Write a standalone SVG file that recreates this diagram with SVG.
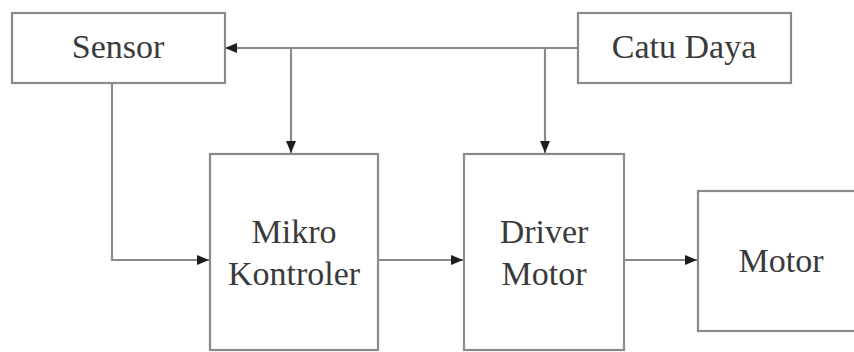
<svg xmlns="http://www.w3.org/2000/svg" width="854" height="352" viewBox="0 0 854 352">
<style>
.box{fill:#fff;stroke:#8a8a8a;stroke-width:2.2}
.lbl{font-family:'Liberation Serif','Times New Roman',serif;font-size:34px;fill:#3a3a3a;text-anchor:middle}
.ln{fill:none;stroke:#8a8a8a;stroke-width:2.2}
</style>
<defs>
<marker id="ah" viewBox="0 0 12 10" refX="12" refY="5" markerWidth="12" markerHeight="10" markerUnits="userSpaceOnUse" orient="auto">
<path d="M0,0 L12,5 L0,10 Z" fill="#1e1e1e"/>
</marker>
</defs>
<rect width="854" height="352" fill="#fff"/>
<g id="connectors">
<path class="ln" d="M578,48 L225,48" marker-end="url(#ah)"/>
<path class="ln" d="M291,48 L291,153" marker-end="url(#ah)"/>
<path class="ln" d="M545,48 L545,153" marker-end="url(#ah)"/>
<path class="ln" d="M112,83 L112,260 L209,260" marker-end="url(#ah)"/>
<path class="ln" d="M378,260 L463,260" marker-end="url(#ah)"/>
<path class="ln" d="M624,260 L697,260" marker-end="url(#ah)"/>
</g>
<g id="sensor">
<rect class="box" x="12" y="13" width="213" height="70"/>
<text class="lbl" x="118" y="58">Sensor</text>
</g>
<g id="catu-daya">
<rect class="box" x="578" y="13" width="213" height="70"/>
<text class="lbl" x="684" y="58">Catu Daya</text>
</g>
<g id="mikro-kontroler">
<rect class="box" x="210" y="154" width="168" height="196"/>
<text class="lbl" x="294" y="243">Mikro</text>
<text class="lbl" x="294" y="285">Kontroler</text>
</g>
<g id="driver-motor">
<rect class="box" x="464" y="154" width="160" height="196"/>
<text class="lbl" x="544" y="243">Driver</text>
<text class="lbl" x="544" y="285">Motor</text>
</g>
<g id="motor">
<rect class="box" x="698" y="191" width="170" height="140"/>
<text class="lbl" x="781" y="272">Motor</text>
</g>
</svg>
